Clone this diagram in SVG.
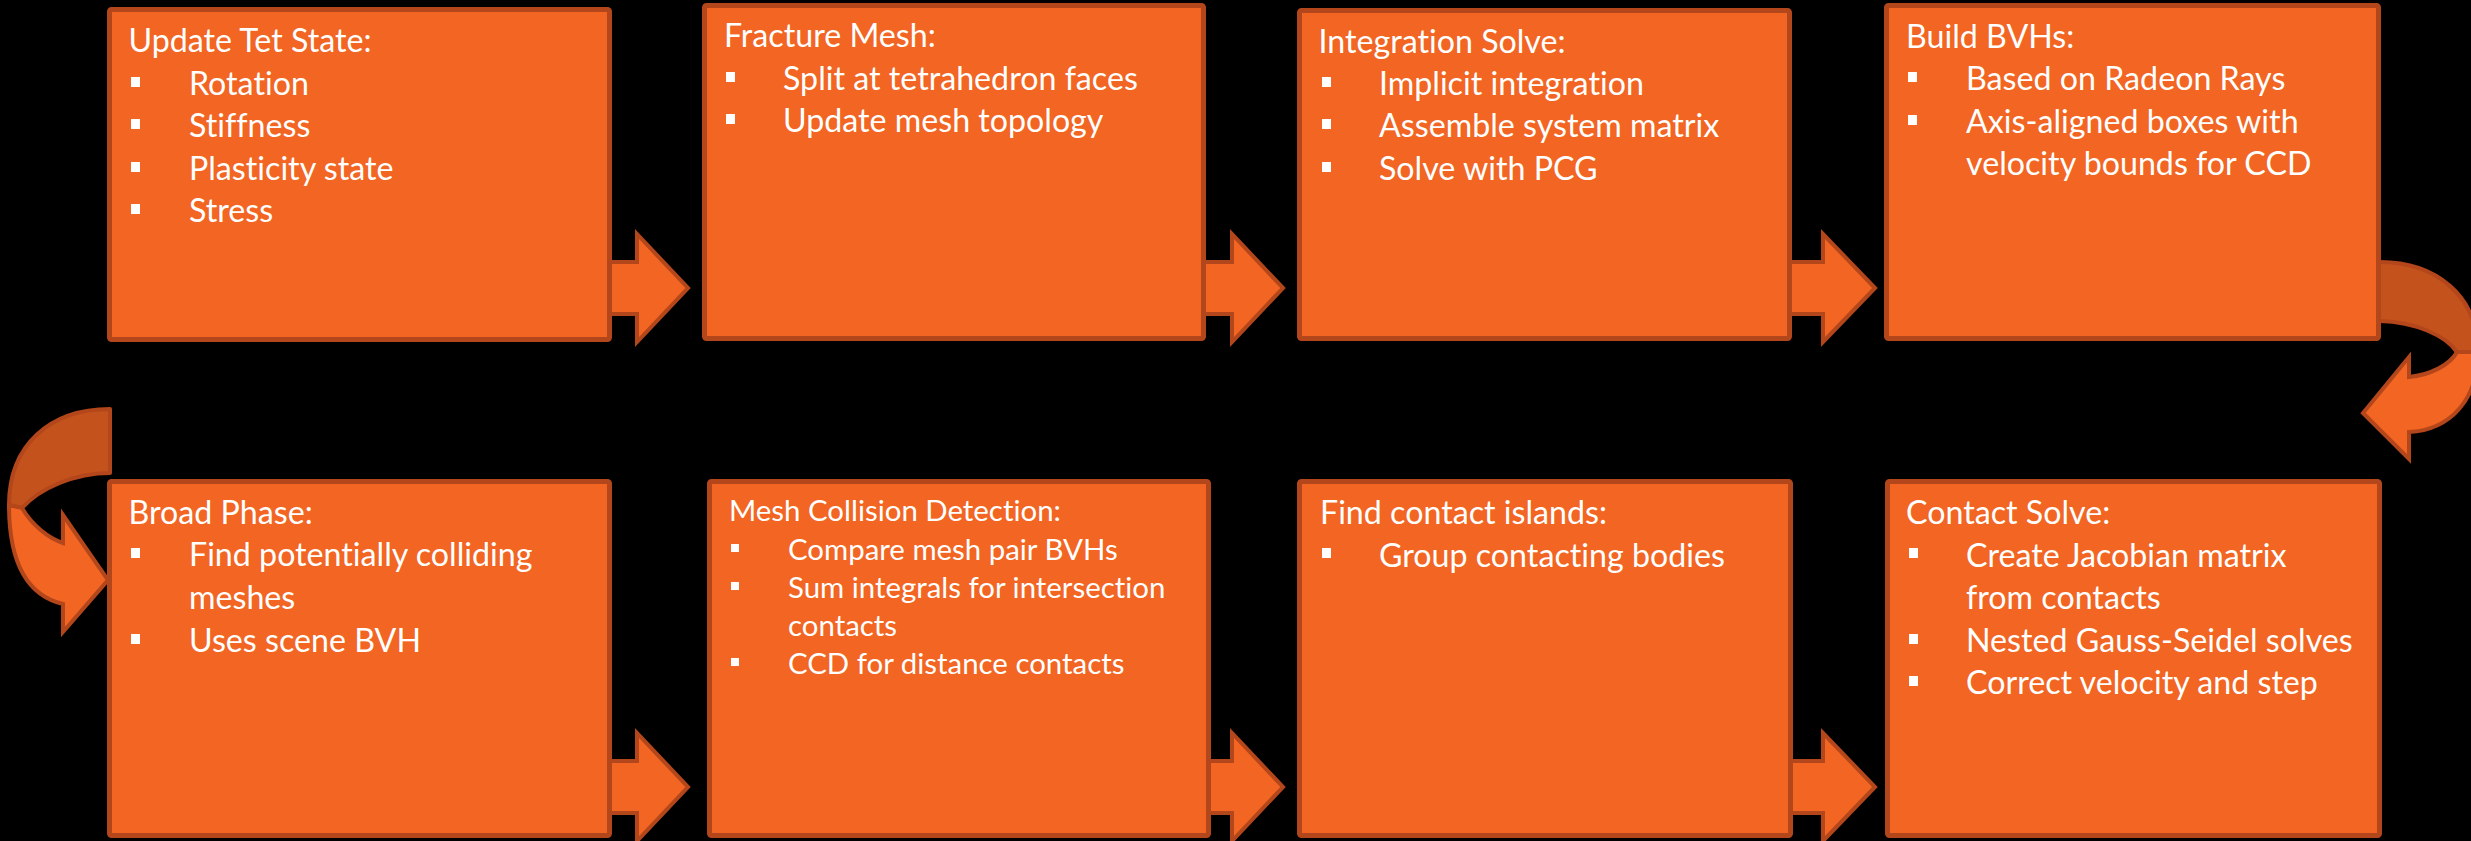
<svg xmlns="http://www.w3.org/2000/svg" width="2471" height="841" viewBox="0 0 2471 841">
<style>
.box{fill:#F26522;stroke:#B4461B;stroke-width:5;}
.arr{fill:#F26522;stroke:#B4461B;stroke-width:4;stroke-linejoin:miter;}
.back{fill:#C3521C;stroke:#B4461B;stroke-width:4;stroke-linejoin:round;}
.front{fill:#F26522;stroke:#B4461B;stroke-width:4;stroke-linejoin:miter;}
text{font-family:Lato,"Liberation Sans",sans-serif;font-size:32.2px;fill:#FFFFFF;font-variant-ligatures:none;}
.sm{font-size:29.4px;}
.b{fill:#FFFFFF;}
</style>
<rect x="0" y="0" width="2471" height="841" fill="#000000"/>
<g id="connectors">
  <polygon class="arr" points="600,262 637,262 637,234 688,288 637,342 637,314 600,314"/>
  <polygon class="arr" points="1195,262 1232,262 1232,234 1283,288 1232,342 1232,314 1195,314"/>
  <polygon class="arr" points="1785,262 1823,262 1823,234 1875,288 1823,342 1823,314 1785,314"/>
  <polygon class="arr" points="600,761 637,761 637,733 688,787 637,841 637,813 600,813"/>
  <polygon class="arr" points="1195,761 1232,761 1232,733 1283,787 1232,841 1232,813 1195,813"/>
  <polygon class="arr" points="1785,761 1823,761 1823,733 1875,787 1823,841 1823,813 1785,813"/>
  <g id="curve-right">
    <path class="back" d="M2370,262 L2380,262 C2435,262 2478,295 2478,352 L2457,352 C2445,335 2415,322 2380,321 L2370,321 Z"/>
    <path class="front" d="M2478,352 C2478,400 2450,430 2409,432 L2409,459 L2363,413 L2409,357 L2409,377 C2430,375 2450,365 2457,352 Z"/>
  </g>
  <g id="curve-left">
    <path class="back" d="M110,409 C50,409 9,445 9,505 L22,508 C40,488 75,473 110,473 Z"/>
    <path class="front" d="M9,505 C9,560 25,595 63,604 L63,632 L108,580 L63,515 L63,543 C48,538 32,525 22,508 Z"/>
  </g>
</g>
<g id="node-update-tet">
  <rect class="box" x="109.5" y="9.5" width="500" height="330" rx="2"/>
  <text x="128.5" y="52">Update Tet State:</text>
  <rect class="b" x="131" y="77" width="9" height="10"/><text x="189" y="95">Rotation</text>
  <rect class="b" x="131" y="119" width="9" height="10"/><text x="189" y="137">Stiffness</text>
  <rect class="b" x="131" y="162" width="9" height="10"/><text x="189" y="180">Plasticity state</text>
  <rect class="b" x="131" y="204" width="9" height="10"/><text x="189" y="222">Stress</text>
</g>
<g id="node-fracture">
  <rect class="box" x="704.5" y="5.5" width="499" height="333" rx="2"/>
  <text x="724" y="47">Fracture Mesh:</text>
  <rect class="b" x="726" y="72" width="9" height="10"/><text x="783" y="90">Split at tetrahedron faces</text>
  <rect class="b" x="726" y="114" width="9" height="10"/><text x="783" y="132">Update mesh topology</text>
</g>
<g id="node-integration">
  <rect class="box" x="1299.5" y="10.5" width="490" height="328" rx="2"/>
  <text x="1318.5" y="53">Integration Solve:</text>
  <rect class="b" x="1322" y="77" width="9" height="10"/><text x="1379" y="95">Implicit integration</text>
  <rect class="b" x="1322" y="119" width="9" height="10"/><text x="1379" y="137">Assemble system matrix</text>
  <rect class="b" x="1322" y="162" width="9" height="10"/><text x="1379" y="180">Solve with PCG</text>
</g>
<g id="node-build-bvhs">
  <rect class="box" x="1886.5" y="5.5" width="492" height="333" rx="2"/>
  <text x="1906" y="48">Build BVHs:</text>
  <rect class="b" x="1908" y="72" width="9" height="10"/><text x="1966" y="90">Based on Radeon Rays</text>
  <rect class="b" x="1908" y="115" width="9" height="10"/><text x="1966" y="133">Axis-aligned boxes with</text>
  <text x="1966" y="175">velocity bounds for CCD</text>
</g>
<g id="node-broad-phase">
  <rect class="box" x="109.5" y="481.5" width="500" height="354" rx="2"/>
  <text x="128.5" y="523.5">Broad Phase:</text>
  <rect class="b" x="131" y="548" width="9" height="10"/><text x="189" y="566">Find potentially colliding</text>
  <text x="189" y="609">meshes</text>
  <rect class="b" x="131" y="634" width="9" height="10"/><text x="189" y="651.5">Uses scene BVH</text>
</g>
<g id="node-mesh-collision">
  <rect class="box" x="709.5" y="481.5" width="499" height="354" rx="2"/>
  <text class="sm" x="729" y="521">Mesh Collision Detection:</text>
  <rect class="b" x="731" y="544" width="8" height="8"/><text class="sm" x="788" y="560">Compare mesh pair BVHs</text>
  <rect class="b" x="731" y="582" width="8" height="8"/><text class="sm" x="788" y="598">Sum integrals for intersection</text>
  <text class="sm" x="788" y="636">contacts</text>
  <rect class="b" x="731" y="658" width="8" height="8"/><text class="sm" x="788" y="674">CCD for distance contacts</text>
</g>
<g id="node-contact-islands">
  <rect class="box" x="1299.5" y="481.5" width="491" height="354" rx="2"/>
  <text x="1320" y="523.5">Find contact islands:</text>
  <rect class="b" x="1322" y="548" width="9" height="10"/><text x="1379" y="566.5">Group contacting bodies</text>
</g>
<g id="node-contact-solve">
  <rect class="box" x="1887.5" y="481.5" width="492" height="354" rx="2"/>
  <text x="1906" y="523.5">Contact Solve:</text>
  <rect class="b" x="1909" y="548" width="9" height="10"/><text x="1966" y="566.5">Create Jacobian matrix</text>
  <text x="1966" y="609">from contacts</text>
  <rect class="b" x="1909" y="634" width="9" height="10"/><text x="1966" y="651.5">Nested Gauss-Seidel solves</text>
  <rect class="b" x="1909" y="676" width="9" height="10"/><text x="1966" y="694">Correct velocity and step</text>
</g>
</svg>
